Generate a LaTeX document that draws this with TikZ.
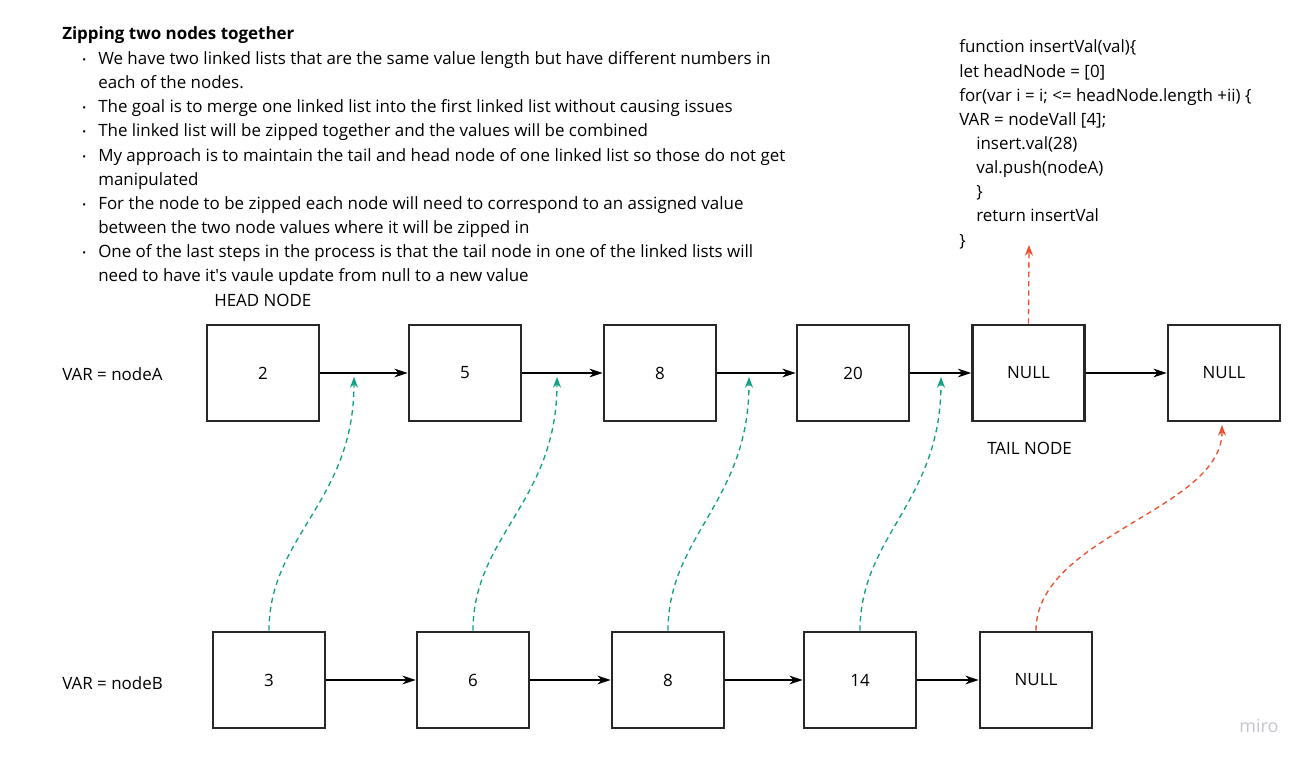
\documentclass[tikz,border=0pt]{standalone}
\usepackage{fontspec}
\setmainfont{Open Sans}
\usetikzlibrary{arrows.meta}
\definecolor{zipteal}{RGB}{18,160,133}
\definecolor{zipred}{RGB}{240,78,45}
\definecolor{boxline}{RGB}{40,40,40}
\definecolor{logogray}{RGB}{196,196,206}
\begin{document}
\begin{tikzpicture}
[x=0.75pt,y=-0.75pt,
  every node/.style={font=\fontsize{12.7}{15}\selectfont},
  listbox/.style={draw=boxline,line width=1.9pt,minimum width=84pt,minimum height=72pt,inner sep=0pt},%
  textline/.style={anchor=base west,inner sep=0pt},%
  nextarrow/.style={-{Stealth[length=10pt,width=6.5pt]},line width=0.9pt},%
  zipline/.style={-{Stealth[length=8pt,width=6pt]},dashed,dash pattern=on 4pt off 3pt,line width=1pt}]
\useasboundingbox (0,0) rectangle (1310,762);
%% heading and bullet text
\node[textline,font=\fontsize{12.7}{15}\selectfont\bfseries] (title) at (62,40) {Zipping two nodes together};
\foreach \y in {65,113,137,162,210,258} {
  \node[textline,font=\fontsize{7.5}{8}\selectfont] at (82,\y-1) {•};
}
\foreach \y/\txt in {65/{We have two linked lists that are the same value length but have different numbers in},
  89/{each of the nodes.},
  113/{The goal is to merge one linked list into the first linked list without causing issues},
  137/{The linked list will be zipped together and the values will be combined},
  162/{My approach is to maintain the tail and head node of one linked list so those do not get},
  186/{manipulated},
  210/{For the node to be zipped each node will need to correspond to an assigned value},
  234/{between the two node values where it will be zipped in},
  258/{One of the last steps in the process is that the tail node in one of the linked lists will},
  282/{need to have it\textquotesingle s vaule update from null to a new value}} {
  \node[textline] at (98,\y) {\txt};
}
%% code
\foreach \x/\y/\txt in {959/53/{function insertVal(val)\{},
  959/78/{let headNode = [0]},
  959/102/{for(var i = i; <= headNode.length +ii) \{},
  959/126/{VAR = nodeVall [4];},
  976/150/{insert.val(28)},
  976/174/{val.push(nodeA)},
  976/198/{\}},
  976/222/{return insertVal},
  959/247/{\}}} {
  \node[textline] at (\x,\y) {\txt};
}
%% labels
\node[textline] (headlabel) at (214,307) {HEAD NODE};
\node[textline] (taillabel) at (987,455) {TAIL NODE};
\node[textline] (varA) at (62,381) {VAR = nodeA};
\node[textline] (varB) at (62,689) {VAR = nodeB};
%% nodes of both lists
\foreach \nodename/\x/\y/\val in {a1/263/373/2, a2/465/373/5, a3/660/373/8, a4/853/373/20,
  a5/1028.5/373/NULL, a6/1224/373/NULL,
  b1/269/680/3, b2/473/680/6, b3/668/680/8, b4/860/680/14, b5/1036/680/NULL} {
  \node (\nodename) at (\x,\y) [listbox] {\val};
}
%% next pointers
\path
\foreach \startnode/\endnode in {a1/a2, a2/a3, a3/a4, a4/a5, a5/a6, b1/b2, b2/b3, b3/b4, b4/b5} {
  (\startnode) edge[nextarrow] (\endnode)
};
%% zip targets
\coordinate (z1) at (354,377);
\coordinate (z2) at (557,377);
\coordinate (z3) at (749,377);
\coordinate (z4) at (941,377);
\coordinate (z5) at (1222,425);
\coordinate (up) at (1029,245);
\foreach \i in {1,2,3,4} {
  \draw[zipline,zipteal] (b\i.north) .. controls +(0,-95) and +(0,125) .. (z\i);
}
\draw[zipline,zipred] (b5.north) .. controls +(0,-95) and +(0,85) .. (z5);
\draw[zipline,zipred] (a5.north) -- (up);
%% logo
\node[text=logogray,font=\fontsize{13.5}{15}\selectfont] (logo) at (1259,726) {miro};
\end{tikzpicture}
\end{document}
